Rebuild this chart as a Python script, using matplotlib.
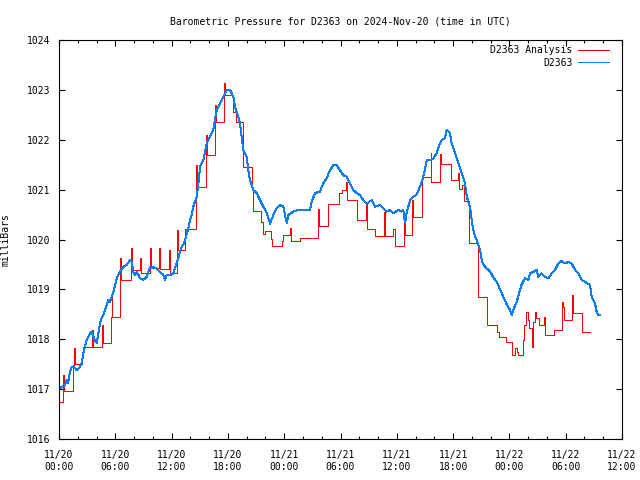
import matplotlib
matplotlib.use("Agg")
import matplotlib.pyplot as plt

# ============================================================
# DATA (time in hours since 2024-11-20 00:00 UTC, pressure in mb)
# ============================================================

analysis_hours = [
    0.00, 0.46, 0.56, 1.52, 1.60, 1.71, 2.42, 2.59, 3.55, 3.66,
    4.61, 4.72, 5.51, 5.60, 5.68, 6.55, 6.66, 7.64, 7.75, 8.63,
    8.71, 9.70, 9.77, 10.69, 10.76, 11.72, 11.83, 12.54, 12.65, 13.48,
    14.57, 14.68, 15.63, 15.74, 16.63, 16.70, 17.59, 17.69, 18.58, 18.81,
    19.58, 20.54, 20.71, 21.50, 21.71, 21.95, 22.56, 22.73, 23.73, 23.90,
    24.62, 24.69, 25.68, 27.64, 27.76, 28.70, 29.84, 30.13, 30.56, 30.73,
    31.79, 32.69, 32.79, 33.68, 34.64, 34.74, 35.63, 35.81, 36.77, 36.88,
    37.65, 37.76, 38.72, 39.61, 39.68, 40.61, 40.71, 41.75, 42.49, 42.60,
    42.92, 43.16, 43.70, 44.69, 45.65, 46.71, 46.93, 47.61, 48.31, 48.60,
    48.78, 48.95, 49.48, 49.56, 49.74, 49.95, 50.12, 50.44, 50.55, 50.73,
    50.84, 51.16, 51.69, 51.80, 52.75, 53.64, 53.74, 53.82, 54.71, 54.82,
    55.77, 56.59,
]
analysis_mb = [
    1016.75, 1017.28, 1016.97, 1017.48, 1017.82, 1017.50, 1017.72, 1017.85, 1018.19, 1017.85,
    1018.29, 1017.93, 1018.45, 1018.89, 1018.44, 1019.62, 1019.19, 1019.83, 1019.39, 1019.62,
    1019.32, 1019.83, 1019.42, 1019.83, 1019.41, 1019.79, 1019.32, 1020.19, 1019.79, 1020.22,
    1021.49, 1021.05, 1022.10, 1021.70, 1022.70, 1022.36, 1023.13, 1022.90, 1022.55, 1022.36,
    1021.46, 1021.06, 1020.57, 1020.36, 1020.12, 1020.18, 1020.02, 1019.87, 1019.96, 1020.09,
    1020.24, 1019.96, 1020.04, 1020.61, 1020.27, 1020.72, 1020.94, 1021.00, 1021.16, 1020.80,
    1020.40, 1020.72, 1020.21, 1020.07, 1020.56, 1020.07, 1020.21, 1019.87, 1020.36, 1020.09,
    1020.79, 1020.46, 1021.26, 1021.74, 1021.16, 1021.72, 1021.51, 1021.19, 1021.34, 1021.01,
    1021.09, 1020.78, 1019.92, 1018.84, 1018.29, 1018.15, 1018.05, 1017.95, 1017.68, 1017.82,
    1017.75, 1017.68, 1017.98, 1018.29, 1018.55, 1018.39, 1018.22, 1017.85, 1018.35, 1018.55,
    1018.42, 1018.29, 1018.44, 1018.09, 1018.19, 1018.75, 1018.65, 1018.39, 1018.89, 1018.53,
    1018.15, 1018.15,
]

obs_hours = [
    0.00, 0.11, 0.64, 0.82, 0.96, 1.17, 1.35, 1.60, 1.89, 2.13,
    2.42, 2.59, 2.77, 2.95, 3.12, 3.30, 3.49, 3.66, 3.84, 4.02,
    4.19, 4.37, 4.55, 4.72, 4.90, 5.08, 5.25, 5.44, 5.79, 6.15,
    6.50, 6.85, 7.22, 7.57, 7.75, 7.92, 8.10, 8.28, 8.45, 8.63,
    8.98, 9.35, 9.70, 9.88, 10.05, 10.41, 10.76, 11.12, 11.30, 11.48,
    11.83, 12.18, 12.36, 12.54, 12.71, 12.90, 13.08, 13.25, 13.43, 13.61,
    13.78, 13.96, 14.14, 14.31, 14.68, 14.85, 15.03, 15.38, 15.74, 16.09,
    16.44, 16.81, 17.16, 17.51, 17.87, 18.22, 18.58, 18.76, 19.11, 19.29,
    19.64, 20.00, 20.17, 20.36, 20.71, 21.07, 21.42, 21.77, 22.14, 22.49,
    22.84, 23.20, 23.55, 23.91, 24.27, 24.44, 24.97, 25.50, 26.75, 26.93,
    27.28, 27.82, 28.17, 28.53, 28.88, 29.23, 29.60, 29.95, 30.30, 30.66,
    31.01, 31.37, 31.73, 32.08, 32.43, 32.79, 33.33, 33.68, 34.21, 34.56,
    34.92, 35.28, 35.63, 36.16, 36.52, 36.69, 36.88, 37.06, 37.23, 37.41,
    37.76, 38.12, 38.47, 38.83, 39.19, 39.54, 39.89, 40.25, 40.61, 40.79,
    41.14, 41.32, 41.67, 41.85, 42.20, 42.56, 42.92, 43.27, 43.45, 43.62,
    43.80, 43.98, 44.15, 44.33, 44.58, 44.87, 45.05, 45.22, 45.58, 45.93,
    46.29, 46.65, 47.00, 47.35, 47.71, 48.06, 48.24, 48.42, 48.78, 49.13,
    49.31, 49.66, 50.02, 50.20, 50.55, 50.91, 51.08, 51.44, 51.80, 52.15,
    52.51, 52.86, 53.21, 53.57, 53.93, 54.28, 54.64, 55.00, 55.35, 55.71,
    56.06, 56.59, 56.77, 57.12, 57.30, 57.47, 57.66,
]
obs_mb = [
    1017.08, 1017.02, 1017.08, 1017.18, 1017.12, 1017.35, 1017.45, 1017.45, 1017.38, 1017.42,
    1017.52, 1017.72, 1017.85, 1017.98, 1018.05, 1018.12, 1018.15, 1018.05, 1017.98, 1017.92,
    1018.12, 1018.32, 1018.42, 1018.49, 1018.59, 1018.69, 1018.79, 1018.75, 1018.95, 1019.22,
    1019.35, 1019.45, 1019.49, 1019.59, 1019.55, 1019.35, 1019.29, 1019.35, 1019.30, 1019.22,
    1019.19, 1019.25, 1019.45, 1019.42, 1019.45, 1019.42, 1019.35, 1019.29, 1019.19, 1019.29,
    1019.29, 1019.32, 1019.42, 1019.52, 1019.62, 1019.76, 1019.86, 1019.89, 1019.99, 1020.12,
    1020.22, 1020.39, 1020.49, 1020.66, 1020.86, 1021.10, 1021.46, 1021.59, 1021.93, 1022.06,
    1022.20, 1022.60, 1022.73, 1022.86, 1023.00, 1023.00, 1022.86, 1022.66, 1022.46, 1022.33,
    1021.80, 1021.66, 1021.39, 1021.19, 1020.99, 1020.93, 1020.79, 1020.66, 1020.53, 1020.32,
    1020.49, 1020.63, 1020.69, 1020.66, 1020.33, 1020.49, 1020.56, 1020.59, 1020.60, 1020.76,
    1020.93, 1020.96, 1021.13, 1021.23, 1021.39, 1021.49, 1021.49, 1021.39, 1021.29, 1021.26,
    1021.13, 1020.99, 1020.93, 1020.89, 1020.79, 1020.72, 1020.79, 1020.66, 1020.69, 1020.63,
    1020.56, 1020.59, 1020.53, 1020.59, 1020.56, 1020.59, 1020.32, 1020.56, 1020.66, 1020.79,
    1020.86, 1020.90, 1021.06, 1021.26, 1021.59, 1021.59, 1021.62, 1021.73, 1021.93, 1022.00,
    1022.03, 1022.20, 1022.13, 1021.93, 1021.73, 1021.53, 1021.33, 1021.13, 1020.86, 1020.76,
    1020.66, 1020.39, 1020.19, 1020.06, 1019.96, 1019.79, 1019.59, 1019.50, 1019.42, 1019.36,
    1019.24, 1019.15, 1019.00, 1018.85, 1018.70, 1018.59, 1018.49, 1018.59, 1018.75, 1018.99,
    1019.10, 1019.22, 1019.19, 1019.32, 1019.35, 1019.39, 1019.25, 1019.32, 1019.25, 1019.22,
    1019.32, 1019.39, 1019.52, 1019.57, 1019.52, 1019.55, 1019.52, 1019.39, 1019.32, 1019.19,
    1019.15, 1019.09, 1018.85, 1018.72, 1018.55, 1018.49, 1018.49,
]

tick_hours = [0, 6, 12, 18, 24, 30, 36, 42, 48, 54, 60]
tick_labels = [
    "11/20\n00:00", "11/20\n06:00", "11/20\n12:00", "11/20\n18:00",
    "11/21\n00:00", "11/21\n06:00", "11/21\n12:00", "11/21\n18:00",
    "11/22\n00:00", "11/22\n06:00", "11/22\n12:00",
]

# ============================================================
# PLOT
# ============================================================

plt.rcParams["font.family"] = ["DejaVu Sans Mono"]
plt.rcParams["font.size"] = 7

fig = plt.figure(figsize=(6.4, 4.8), dpi=100)
ax = fig.add_axes([59 / 640, 41 / 480, 563 / 640, 399 / 480])

ax.plot(analysis_hours, analysis_mb, color="#ff0000", lw=0.72,
        drawstyle="steps-post", label="D2363 Analysis", antialiased=False)
ax.plot(obs_hours, obs_mb, color="#0a7df0", lw=0.72,
        label="D2363", antialiased=False)

ax.set_xlim(0, 60)
ax.set_ylim(1016, 1024)
ax.set_xticks(tick_hours)
ax.set_xticklabels(tick_labels, linespacing=1.25)
ax.set_xticks(range(0, 61, 2), minor=True)
ax.set_yticks(range(1016, 1025))
ax.tick_params(which="both", direction="in", top=True, right=True, width=0.8)
ax.tick_params(which="major", length=4.5)
ax.tick_params(axis="x", which="major", pad=8)
ax.tick_params(axis="y", which="major", pad=6)
ax.tick_params(which="minor", length=2.5)
for s in ax.spines.values():
    s.set_linewidth(0.8)

ax.set_ylabel("milliBars", fontsize=7, labelpad=12)
ax.set_title("Barometric Pressure for D2363 on 2024-Nov-20 (time in UTC)",
             fontsize=7, pad=11)

leg = ax.legend(loc="upper right", bbox_to_anchor=(1.0, 1.018), frameon=False,
                markerfirst=False, handlelength=3.2, handletextpad=0.6,
                borderaxespad=0.9, labelspacing=0.25, fontsize=7)
for t in leg.get_texts():
    t.set_ha("right")

fig.savefig("out.png", dpi=100)
